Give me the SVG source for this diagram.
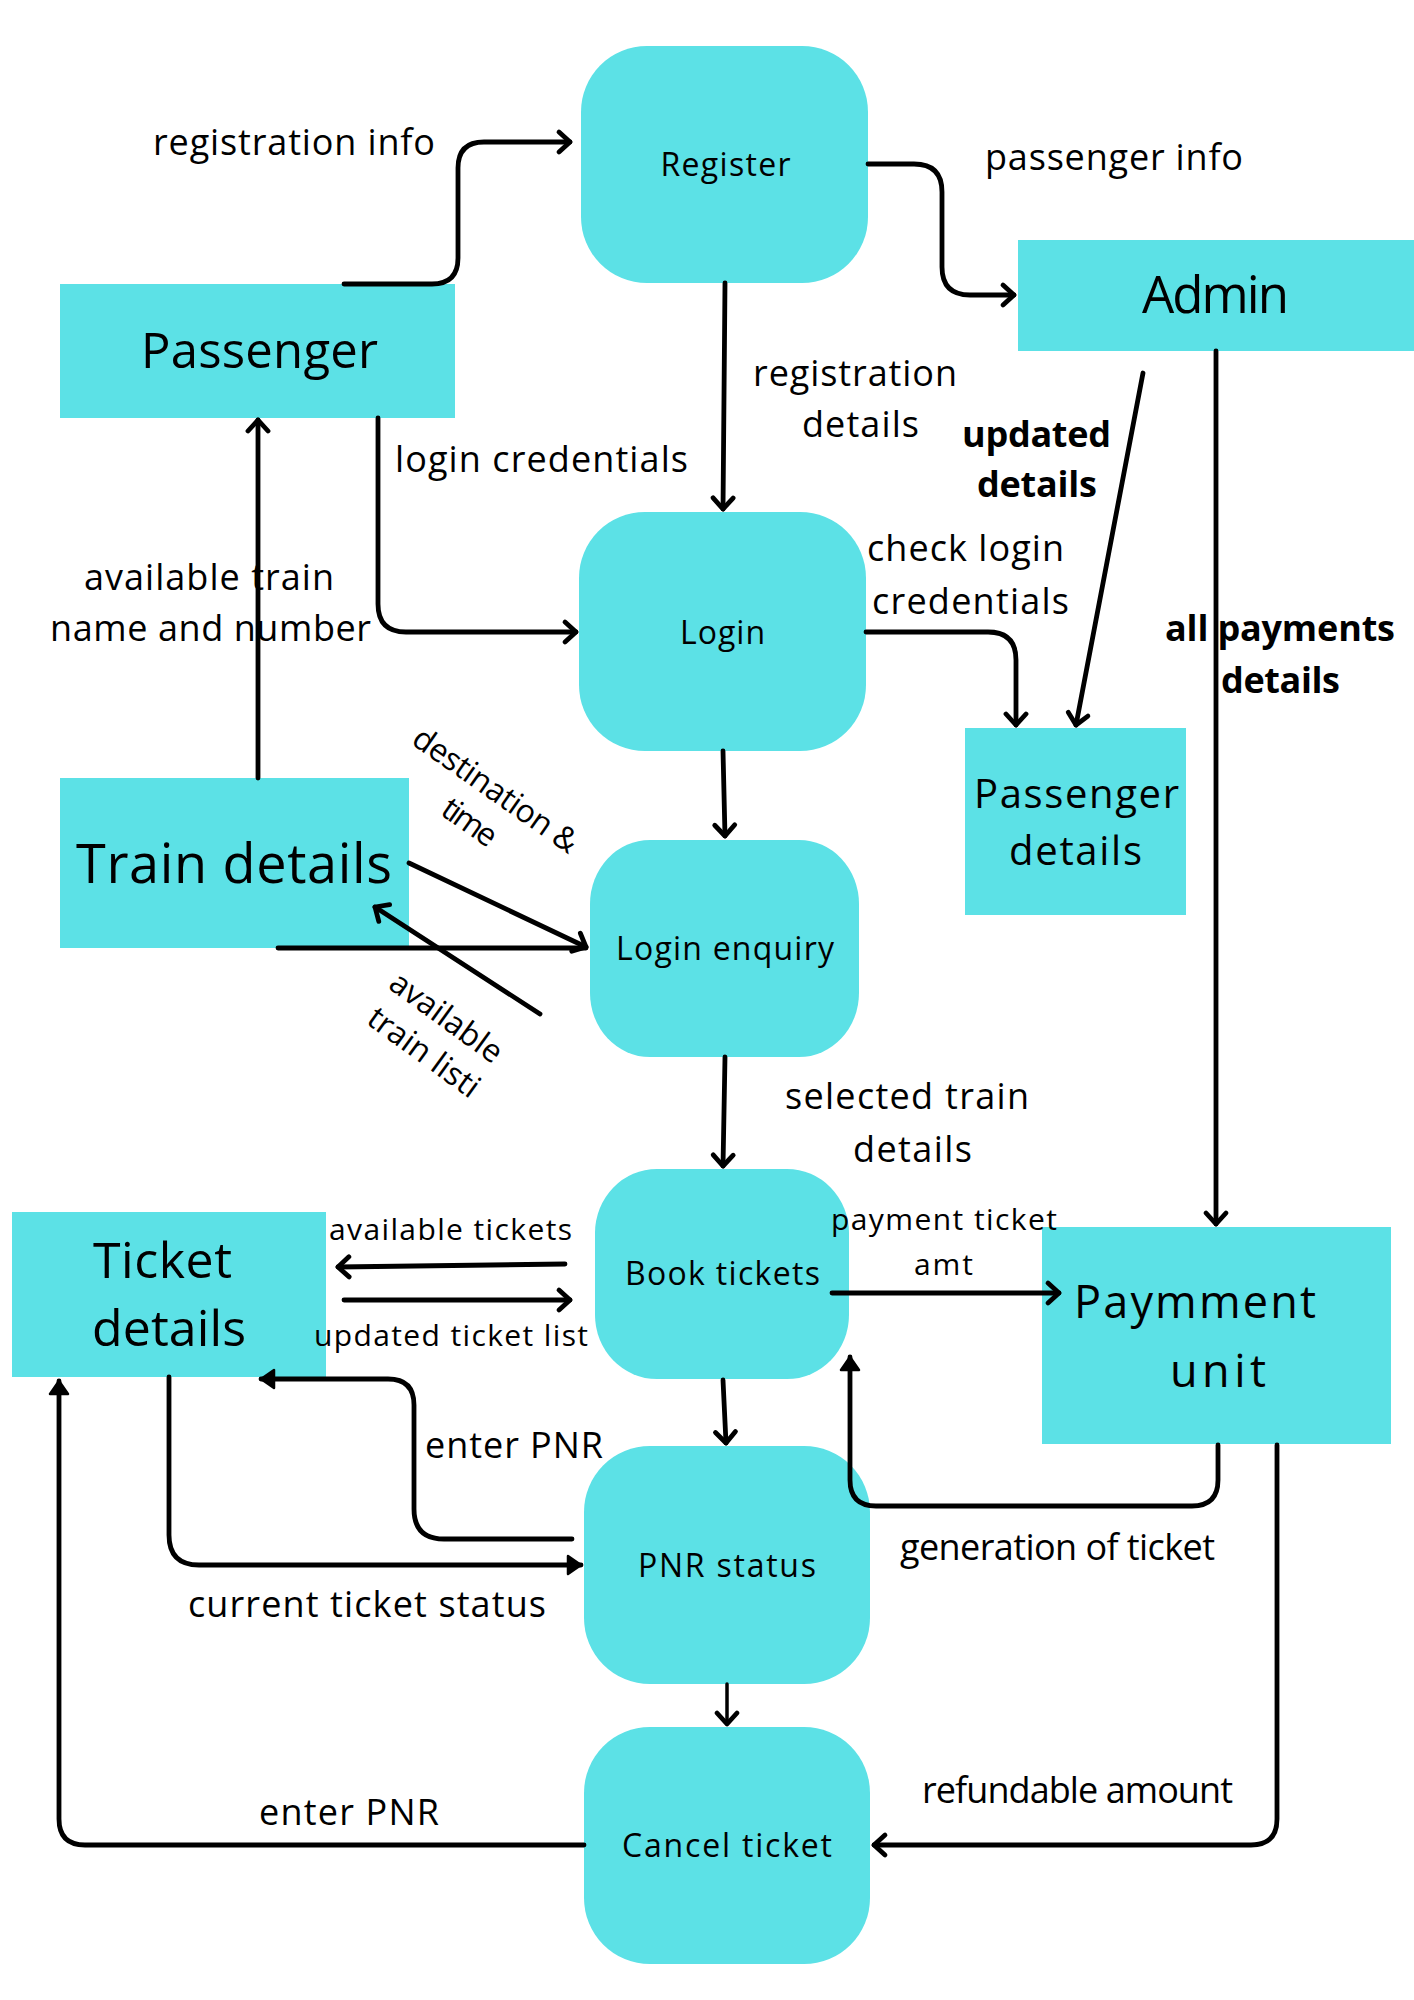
<svg xmlns="http://www.w3.org/2000/svg" width="1414" height="2000" viewBox="0 0 1414 2000">
<style>
.n{fill:#5ce1e6}
text{font-family:"Open Sans","Noto Sans","Liberation Sans",sans-serif;fill:#000;text-anchor:middle}
.lb{font-size:36px}
.sm{font-size:30px}
.pr{font-size:32px}
.bd{font-size:36px;font-weight:bold}
.c{fill:none;stroke:#000;stroke-width:4.8;stroke-linecap:round;stroke-linejoin:round}
.o{marker-end:url(#open)}
.f{marker-end:url(#fill)}
</style>
<defs>
<marker id="open" markerUnits="userSpaceOnUse" markerWidth="30" markerHeight="30" viewBox="-15 -15 30 30" refX="0" refY="0" orient="auto" overflow="visible">
<path d="M-11,-10 L0,0 L-11,10" fill="none" stroke="#000" stroke-width="4.8" stroke-linecap="round" stroke-linejoin="round"/>
</marker>
<marker id="fill" markerUnits="userSpaceOnUse" markerWidth="30" markerHeight="30" viewBox="-15 -15 30 30" refX="0" refY="0" orient="auto" overflow="visible">
<path d="M-13,-9 L0,0 L-13,9 Z" fill="#000" stroke="#000" stroke-width="2.5" stroke-linejoin="round"/>
</marker>
</defs>
<rect width="1414" height="2000" fill="#fff"/>

<g id="register"><rect class="n" x="581" y="46" width="287" height="237" rx="66" ry="66"/><text class="pr" x="725.5" y="176" textLength="130">Register</text></g>
<g id="passenger"><rect class="n" x="60" y="284" width="395" height="134"/><text x="259.5" y="368" font-size="49" textLength="237">Passenger</text></g>
<g id="admin"><rect class="n" x="1018" y="240" width="396" height="111"/><text x="1215.5" y="313" font-size="51" textLength="147">Admin</text></g>
<g id="login"><rect class="n" x="579" y="512" width="287" height="239" rx="66" ry="66"/><text class="pr" x="722.5" y="644" textLength="85">Login</text></g>
<g id="passenger-details"><rect class="n" x="965" y="728" width="221" height="187"/><text x="1076.5" y="808" font-size="40" textLength="205">Passenger</text><text x="1075.5" y="865" font-size="40" textLength="133">details</text></g>
<g id="train-details"><rect class="n" x="60" y="778" width="349" height="170"/><text x="234" y="883" font-size="54" textLength="316">Train details</text></g>
<g id="login-enquiry"><rect class="n" x="590" y="840" width="269" height="217" rx="60" ry="64"/><text class="pr" x="725" y="960" textLength="218">Login enquiry</text></g>
<g id="book-tickets"><rect class="n" x="595" y="1169" width="254" height="210" rx="62" ry="64"/><text class="pr" x="722.5" y="1285" textLength="195">Book tickets</text></g>
<g id="ticket-details"><rect class="n" x="12" y="1212" width="314" height="165"/><text x="162.5" y="1278" font-size="50" textLength="139">Ticket</text><text x="169" y="1346" font-size="50" textLength="154">details</text></g>
<g id="paymment-unit"><rect class="n" x="1042" y="1227" width="349" height="217"/><text x="1195" y="1318" font-size="45" textLength="242">Paymment</text><text x="1218" y="1387" font-size="45" textLength="96">unit</text></g>
<g id="pnr-status"><rect class="n" x="584" y="1446" width="286" height="238" rx="66" ry="66"/><text class="pr" x="727" y="1577" textLength="178">PNR status</text></g>
<g id="cancel-ticket"><rect class="n" x="584" y="1727" width="286" height="237" rx="66" ry="66"/><text class="pr" x="727" y="1857" textLength="210">Cancel ticket</text></g>

<g id="labels">
<text class="lb" x="294" y="155" textLength="282">registration info</text>
<text class="lb" x="1114" y="170" textLength="258">passenger info</text>
<text class="lb" x="541.5" y="472" textLength="293">login credentials</text>
<text class="lb" x="855" y="386" textLength="204">registration</text>
<text class="lb" x="860.5" y="437" textLength="117">details</text>
<text class="bd" x="1036.5" y="447" textLength="149">updated</text>
<text class="bd" x="1037" y="497" textLength="120">details</text>
<text class="lb" x="209" y="590" textLength="250">available train</text>
<text class="lb" x="210.5" y="641" textLength="321">name and number</text>
<text class="lb" x="965.5" y="561" textLength="197">check login</text>
<text class="lb" x="970.5" y="614" textLength="197">credentials</text>
<text class="bd" x="1280" y="641" textLength="230">all payments</text>
<text class="bd" x="1280.5" y="693" textLength="119">details</text>
<text class="pr" transform="translate(489.5,799) rotate(35)" textLength="194">destination &amp;</text>
<text class="pr" transform="translate(463.5,831) rotate(35)" textLength="60">time</text>
<text class="pr" transform="translate(440,1026) rotate(36)" textLength="131">available</text>
<text class="pr" transform="translate(417.5,1061) rotate(36)" textLength="130">train listi</text>
<text class="lb" x="907" y="1109" textLength="244">selected train</text>
<text class="lb" x="912.5" y="1162" textLength="119">details</text>
<text class="sm" x="944" y="1230" textLength="226">payment ticket</text>
<text class="sm" x="943.5" y="1275" textLength="59">amt</text>
<text class="sm" x="450.5" y="1240" textLength="243">available tickets</text>
<text class="sm" x="451" y="1346" textLength="274">updated ticket list</text>
<text class="lb" x="514" y="1458" textLength="178">enter PNR</text>
<text class="lb" x="367" y="1617" textLength="358">current ticket status</text>
<text class="lb" x="1057.5" y="1560" textLength="315">generation of ticket</text>
<text class="lb" x="1077.5" y="1803" textLength="311">refundable amount</text>
<text class="lb" x="349" y="1825" textLength="180">enter PNR</text>
</g>

<g id="connectors">
<path class="c o" d="M344,284 H432 Q458,284 458,258 V168 Q458,142 484,142 H570"/>
<path class="c o" d="M868,164 H914 Q942,164 942,192 V267 Q942,295 970,295 H1014"/>
<path class="c o" d="M725,283 L723,509"/>
<path class="c o" d="M378,418 V604 Q378,632 406,632 H576"/>
<path class="c o" d="M258,778 V420"/>
<path class="c o" d="M866,632 H988 Q1016,632 1016,660 V725"/>
<path class="c o" d="M1143,373 L1076,725"/>
<path class="c o" d="M1216,351 V1224"/>
<path class="c o" d="M723,751 L725,836"/>
<path class="c" d="M278,948 H586"/>
<path class="c o" d="M409,863 L586,947"/>
<path class="c o" d="M540,1014 L375,907"/>
<path class="c o" d="M725,1057 L723,1166"/>
<path class="c o" d="M565,1264 L338,1267"/>
<path class="c o" d="M344,1300 H570"/>
<path class="c o" d="M832,1293 H1059"/>
<path class="c f" d="M1218,1445 V1480 Q1218,1506 1192,1506 H876 Q850,1506 850,1480 V1357"/>
<path class="c o" d="M723,1380 L726,1443"/>
<path class="c f" d="M572,1539 H444 Q414,1539 414,1509 V1405 Q414,1379 388,1379 H261"/>
<path class="c f" d="M169,1377 V1535 Q169,1565 199,1565 H581"/>
<path class="c o" d="M727,1684 V1724" style="stroke-width:3.5"/>
<path class="c f" d="M584,1845 H85 Q59,1845 59,1819 V1381"/>
<path class="c o" d="M1277,1445 V1819 Q1277,1845 1251,1845 H874"/>
</g>
</svg>
